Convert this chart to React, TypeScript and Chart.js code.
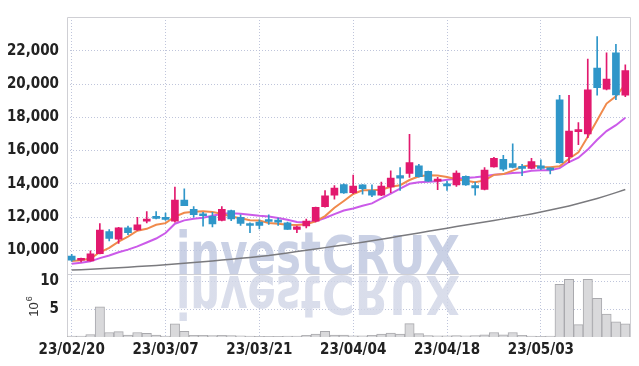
import React, { useEffect, useRef } from 'react';
import { Chart, registerables } from 'chart.js';
Chart.register(...registerables);

const labels = [
  '23/02/20','23/02/21','23/02/22','23/02/23','23/02/24','23/02/27','23/02/28','23/03/02','23/03/03','23/03/06',
  '23/03/07','23/03/08','23/03/09','23/03/10','23/03/13','23/03/14','23/03/15','23/03/16','23/03/17','23/03/20',
  '23/03/21','23/03/22','23/03/23','23/03/24','23/03/27','23/03/28','23/03/29','23/03/30','23/03/31','23/04/03',
  '23/04/04','23/04/05','23/04/06','23/04/07','23/04/10','23/04/11','23/04/12','23/04/13','23/04/14','23/04/17',
  '23/04/18','23/04/19','23/04/20','23/04/21','23/04/24','23/04/25','23/04/26','23/04/27','23/04/28','23/05/02',
  '23/05/03','23/05/04','23/05/08','23/05/09','23/05/10','23/05/11','23/05/12','23/05/15','23/05/16','23/05/17',
];

const opens = [
  9650, 9400, 9360, 9800, 11120, 10670, 11350, 11220, 11750, 11980,
  11980, 11750, 13020, 12470, 12160, 12040, 11790, 12390, 11980, 11550,
  11700, 11770, 11720, 11650, 11260, 11460, 11750, 12630, 13310, 13960,
  13470, 13940, 13600, 13310, 13810, 14490, 14630, 15080, 14750, 14160,
  14000, 13940, 14450, 13900, 13660, 15020, 15470, 15220, 14990, 14930,
  15080, 14940, 19060, 15630, 17140, 17000, 20960, 19690, 21880, 19340,
];
const highs = [
  9760, 9530, 9960, 11600, 11250, 11380, 11450, 11980, 12330, 12330,
  12240, 13800, 13700, 12630, 12280, 12280, 12630, 12420, 12140, 11650,
  11840, 12130, 11940, 11700, 11450, 11880, 12600, 13600, 13900, 14000,
  14530, 13960, 13940, 14100, 14780, 14980, 16980, 15180, 14760, 14390,
  14160, 14780, 14480, 14100, 14980, 15600, 15720, 16410, 15180, 15530,
  15450, 14960, 19330, 19330, 17690, 21510, 22860, 21880, 22390, 21160,
];
const lows = [
  9330, 9300, 9340, 9780, 10570, 10410, 10940, 11200, 11650, 11880,
  11800, 11690, 12680, 12000, 11450, 11410, 11760, 11780, 11490, 11060,
  11290, 11550, 11490, 11250, 11060, 11350, 11700, 12600, 13080, 13420,
  13400, 13370, 13220, 13280, 13470, 13600, 14390, 14400, 14150, 13650,
  13600, 13840, 13900, 13310, 13640, 15000, 14780, 14950, 14490, 14900,
  14850, 14590, 15250, 15280, 16350, 16780, 19330, 19650, 19060, 19250,
];
const closes = [
  9400, 9520, 9780, 11220, 10720, 11350, 11060, 11530, 11800, 11920,
  11850, 13020, 12690, 12140, 12080, 11590, 12470, 11880, 11610, 11490,
  11490, 11730, 11690, 11260, 11410, 11750, 12590, 13280, 13750, 13450,
  13870, 13710, 13310, 13860, 14350, 14340, 15280, 14430, 14160, 14290,
  13870, 14650, 13940, 13750, 14820, 15530, 14880, 14980, 14930, 15340,
  14920, 14840, 15280, 17180, 17230, 19650, 19780, 20310, 19350, 20820,
];
const ma5 = [
  9360, 9400, 9500, 9880, 10150, 10518, 10826, 11176, 11292, 11532,
  11632, 12024, 12256, 12324, 12356, 12304, 12194, 12032, 11926, 11808,
  11788, 11640, 11602, 11532, 11516, 11568, 11740, 12058, 12556, 12964,
  13388, 13612, 13618, 13640, 13820, 13914, 14228, 14452, 14512, 14500,
  14406, 14280, 14182, 14100, 14206, 14538, 14584, 14792, 15028, 15132,
  15010, 15002, 15062, 15512, 15890, 16836, 17824, 18830, 19264, 19982,
];
const ma20 = [
  9194, 9253, 9335, 9530, 9688, 9882, 10041, 10235, 10470, 10706,
  11040, 11600, 11800, 11900, 11960, 12076, 12194, 12235, 12194, 12135,
  12076, 12030, 11941, 11841, 11706, 11688, 11747, 11941, 12176, 12394,
  12520, 12680, 12823, 13118, 13412, 13706, 14000, 14100, 14118, 14159,
  14240, 14300, 14353, 14394, 14453, 14547, 14588, 14647, 14688, 14782,
  14823, 14823, 14941, 15312, 15570, 16059, 16647, 17176, 17529, 17982,
];
const ma120 = [
  8806, 8835, 8865, 8895, 8925, 8955, 8985, 9020, 9055, 9090,
  9130, 9175, 9220, 9265, 9310, 9360, 9410, 9460, 9515, 9570,
  9630, 9690, 9765, 9840, 9920, 10000, 10080, 10160, 10240, 10320,
  10400, 10490, 10580, 10670, 10760, 10855, 10950, 11045, 11140, 11235,
  11330, 11425, 11520, 11610, 11700, 11795, 11890, 11985, 12085, 12190,
  12300, 12420, 12540, 12670, 12810, 12960, 13120, 13290, 13470, 13660,
];
// volume in millions (10^6)
const volumes = [
  0.15, 0.15, 0.45, 5.4, 0.8, 0.95, 0.35, 0.8, 0.65, 0.35,
  0.15, 2.35, 1.0, 0.3, 0.3, 0.25, 0.3, 0.25, 0.2, 0.15,
  0.1, 0.1, 0.1, 0.15, 0.15, 0.3, 0.5, 1.0, 0.35, 0.35,
  0.2, 0.2, 0.3, 0.5, 0.7, 0.5, 2.4, 0.6, 0.25, 0.2,
  0.2, 0.25, 0.2, 0.25, 0.4, 0.8, 0.4, 0.8, 0.3, 0.15,
  0.1, 0.15, 9.4, 10.3, 2.2, 10.3, 6.9, 4.1, 2.7, 2.35,
];
const priceTicks = [10000, 12000, 14000, 16000, 18000, 20000, 22000];
const volumeTicks = [5, 10];
const labelEvery = 10;

const UP = '#e2196e';
const DOWN = '#2f96c9';
const GRID = 'rgba(175,182,210,0.8)';
const DASH = [1, 2];
const FONT = '"Liberation Sans Narrow", "DejaVu Sans Condensed", sans-serif';
const WM_FONT = 'bold 56px "DejaVu Sans", sans-serif';

function drawWord(ctx: any, text: string, x: number, y: number, w: number, sy: number, fill: any) {
  ctx.save();
  ctx.font = WM_FONT;
  const mw = ctx.measureText(text).width;
  ctx.translate(x, y);
  ctx.scale(w / mw, sy);
  ctx.fillStyle = fill;
  ctx.fillText(text, 0, 0);
  ctx.restore();
}

const framePlugin = {
  id: 'frame',
  beforeDatasetsDraw(chart: any) {
    const { ctx, chartArea } = chart;
    const y2 = chart.scales.y2;
    ctx.save();
    ctx.beginPath();
    ctx.rect(chartArea.left, chartArea.top, chartArea.right - chartArea.left, chartArea.bottom - chartArea.top);
    ctx.clip();
    const sep = y2.top;
    const top = 'rgba(190,199,223,0.82)';
    drawWord(ctx, 'invest', 176, sep, 145, 1.05, top);
    drawWord(ctx, 'CRUX', 322, sep, 138, 0.95, top);
    const g = ctx.createLinearGradient(0, sep + 2, 0, sep + 46);
    g.addColorStop(0, 'rgba(208,213,230,0.8)');
    g.addColorStop(1, 'rgba(228,230,240,0.35)');
    drawWord(ctx, 'invest', 176, sep + 2, 145, -1.05, g);
    drawWord(ctx, 'CRUX', 322, sep + 2, 138, -0.95, g);
    ctx.restore();

    ctx.save();
    ctx.strokeStyle = '#cfcfd4';
    ctx.lineWidth = 1;
    ctx.beginPath();
    ctx.moveTo(Math.round(chartArea.left) + 0.5, chartArea.bottom);
    ctx.lineTo(Math.round(chartArea.left) + 0.5, Math.round(chartArea.top) + 0.5);
    ctx.lineTo(Math.round(chartArea.right) + 0.5, Math.round(chartArea.top) + 0.5);
    ctx.lineTo(Math.round(chartArea.right) + 0.5, chartArea.bottom);
    ctx.moveTo(chartArea.left, Math.round(sep) + 0.5);
    ctx.lineTo(chartArea.right, Math.round(sep) + 0.5);
    ctx.stroke();
    ctx.restore();
  },
  afterDraw(chart: any) {
    const { ctx } = chart;
    const y2 = chart.scales.y2;
    const cy = (y2.top + y2.bottom) / 2;
    ctx.save();
    ctx.translate(38, cy + 11);
    ctx.rotate(-Math.PI / 2);
    ctx.fillStyle = '#333';
    ctx.textBaseline = 'alphabetic';
    ctx.font = '13px "Liberation Sans", sans-serif';
    ctx.fillText('10', 0, 0);
    const tw = ctx.measureText('10').width;
    ctx.font = '9px "Liberation Sans", sans-serif';
    ctx.fillText('6', tw + 1, -6);
    ctx.restore();
  },
};

export default function App() {
  const ref = useRef<HTMLCanvasElement>(null);
  useEffect(() => {
    document.body.style.margin = '0';
    const canvas = ref.current!;
    const colors = closes.map((c, i) => (c >= opens[i] ? UP : DOWN));
    const wickData = lows.map((l, i) => [l, highs[i]]);
    const bodyData = opens.map((o, i) => [Math.min(o, closes[i]), Math.max(o, closes[i])]);
    const tickFont = { family: FONT, size: 15, weight: 'bold' as const };
    const chart = new Chart(canvas, {
      type: 'bar',
      data: {
        labels,
        datasets: [
          { type: 'line', label: 'MA5', data: ma5, yAxisID: 'y', borderColor: '#f08a4c', borderWidth: 2, pointRadius: 0, order: 2 } as any,
          { type: 'line', label: 'MA20', data: ma20, yAxisID: 'y', borderColor: 'rgba(200,82,232,0.95)', borderWidth: 2, pointRadius: 0, order: 3 } as any,
          { type: 'line', label: 'MA120', data: ma120, yAxisID: 'y', borderColor: '#7a7a7e', borderWidth: 1.5, pointRadius: 0, order: 4 } as any,
          { type: 'bar', label: 'wick', data: wickData, yAxisID: 'y', backgroundColor: colors, barThickness: 1, grouped: false, order: 1 } as any,
          { type: 'bar', label: 'body', data: bodyData, yAxisID: 'y', backgroundColor: colors, barThickness: 7, grouped: false, minBarLength: 2, order: 0 } as any,
          { type: 'bar', label: 'volume', data: volumes, yAxisID: 'y2', backgroundColor: '#d9d9db', borderColor: '#a9a9ad', borderWidth: 1, barPercentage: 1, categoryPercentage: 1, grouped: false, order: 5 } as any,
        ],
      },
      options: {
        animation: false,
        responsive: false,
        events: [],
        layout: { padding: { top: 9, right: 9, left: 0, bottom: 0 } },
        plugins: { legend: { display: false }, tooltip: { enabled: false } },
        scales: {
          x: {
            type: 'category',
            offset: true,
            border: { display: false, dash: DASH },
            grid: {
              offset: false,
              drawTicks: false,
              color: (c: any) => (c.index % labelEvery === 0 ? GRID : 'rgba(0,0,0,0)'),
              lineWidth: 1,
            },
            ticks: {
              autoSkip: false,
              maxRotation: 0,
              minRotation: 0,
              padding: 4,
              color: '#222',
              font: tickFont,
              callback: (_v: any, i: number) => (i % labelEvery === 0 ? labels[i] : ''),
            },
            afterFit: (s: any) => { s.height = 29; },
          },
          y: {
            type: 'linear',
            position: 'left',
            stack: 'panes',
            stackWeight: 263,
            weight: 2,
            min: 8550,
            max: 24040,
            border: { display: false, dash: DASH },
            grid: { color: GRID, drawTicks: false },
            ticks: {
              padding: 8,
              color: '#222',
              font: tickFont,
              callback: (v: any) => Number(v).toLocaleString('en-US'),
            },
            afterBuildTicks: (s: any) => { s.ticks = priceTicks.map((v) => ({ value: v })); },
            afterFit: (s: any) => { s.width = 67; },
          },
          y2: {
            type: 'linear',
            position: 'left',
            stack: 'panes',
            stackWeight: 64,
            weight: 1,
            min: 0,
            max: 11.2,
            border: { display: false, dash: DASH },
            grid: { color: GRID, drawTicks: false },
            ticks: { padding: 8, color: '#222', font: tickFont },
            afterBuildTicks: (s: any) => { s.ticks = volumeTicks.map((v) => ({ value: v })); },
            afterFit: (s: any) => { s.width = 67; },
          },
        },
      } as any,
      plugins: [framePlugin],
    });
    return () => chart.destroy();
  }, []);
  return (
    <div style={{ position: 'absolute', left: 0, top: 0, width: 639, height: 366, background: '#fff' }}>
      <canvas ref={ref} width={639} height={366} style={{ display: 'block' }} />
    </div>
  );
}
